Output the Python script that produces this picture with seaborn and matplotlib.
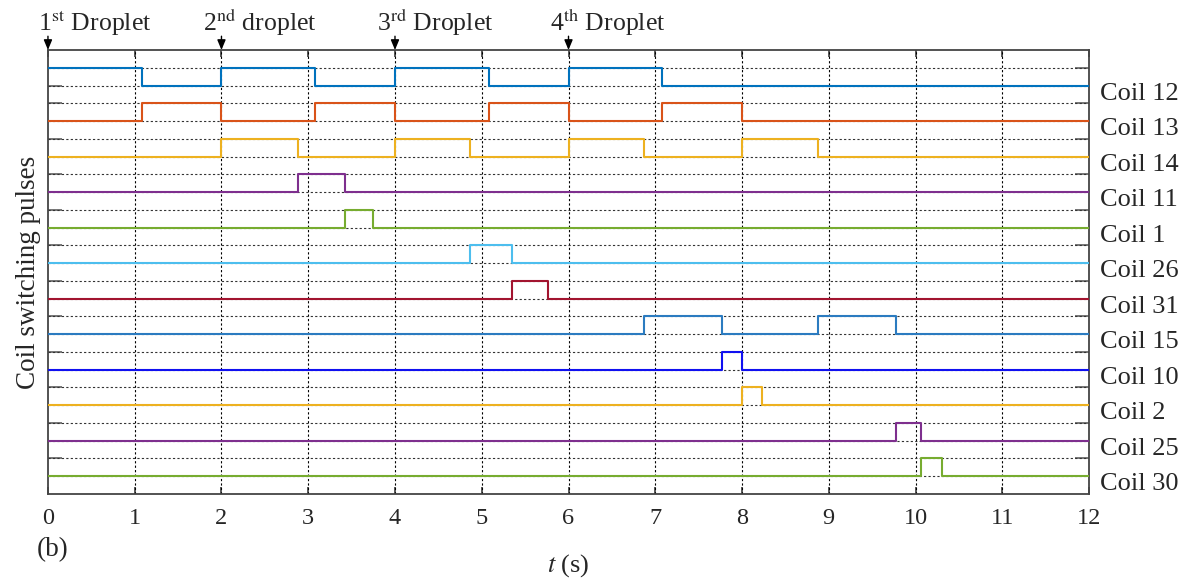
import matplotlib
matplotlib.use("Agg")
import matplotlib.pyplot as plt
import matplotlib.transforms as mtransforms
import pandas as pd
import seaborn as sns

# Coils from top to bottom of the timing diagram
coil_names = ["Coil 12", "Coil 13", "Coil 14", "Coil 11", "Coil 1", "Coil 26",
              "Coil 31", "Coil 15", "Coil 10", "Coil 2", "Coil 25", "Coil 30"]
coil_colors = ["#0072BD", "#D95319", "#EDB120", "#7E2F8E", "#77AC30", "#4DBEEE",
               "#A2142F", "#2B7BC0", "#1010F0", "#EDB120", "#7E2F8E", "#77AC30"]

# Switch-on and switch-off instants (s) of each pulse, per coil
pulse_on = [
    [0.0, 2.0, 4.0, 6.0],
    [1.08, 3.08, 5.08, 7.08],
    [2.0, 4.0, 6.0, 8.0],
    [2.88],
    [3.42],
    [4.87],
    [5.35],
    [6.87, 8.87],
    [7.77],
    [8.0],
    [9.77],
    [10.06],
]
pulse_off = [
    [1.08, 3.08, 5.08, 7.08],
    [2.0, 4.0, 6.0, 8.0],
    [2.88, 4.87, 6.87, 8.87],
    [3.42],
    [3.75],
    [5.35],
    [5.76],
    [7.77, 9.77],
    [8.0],
    [8.23],
    [10.06],
    [10.31],
]

droplet_times = [0, 2, 4, 6]
droplet_labels = [r"1$^{\rm st}$ Droplet", r"2$^{\rm nd}$ droplet",
                  r"3$^{\rm rd}$ Droplet", r"4$^{\rm th}$ Droplet"]
x_ticks = list(range(0, 13))
t_end = 12.0

# Build one step signal per coil, stacked with two levels (off / on) per channel
n = len(coil_names)
rows = []
for i, name in enumerate(coil_names):
    low = 2 * (n - 1 - i) + 1
    high = low + 1
    times, states = [0.0], [0]
    for on, off in zip(pulse_on[i], pulse_off[i]):
        if on == 0.0:
            states[0] = 1
        else:
            times.append(on)
            states.append(1)
        times.append(off)
        states.append(0)
    times.append(t_end)
    states.append(states[-1])
    for t, s in zip(times, states):
        rows.append({"t": t, "level": high if s else low, "coil": name})
df = pd.DataFrame(rows)

sns.set_theme(style="white")
plt.rcParams["font.family"] = ["Liberation Serif", "DejaVu Serif"]
plt.rcParams["mathtext.fontset"] = "stix"

fig = plt.figure(figsize=(11.99, 5.80), dpi=100)
ax = fig.add_axes([0.040, 0.1483, 0.8683, 0.7655])

# dotted reference grid
for x in range(1, 12):
    ax.axvline(x, color="black", lw=0.8, ls=(0, (2, 2)), zorder=1)
for y in range(1, 2 * n + 1):
    ax.axhline(y, color="#333333", lw=0.8, ls=(0, (2, 2)), zorder=1)

sns.lineplot(data=df, x="t", y="level", hue="coil", hue_order=coil_names,
             palette=dict(zip(coil_names, coil_colors)), estimator=None,
             sort=False, drawstyle="steps-post", legend=False, lw=1.5,
             ax=ax, zorder=3)

ax.set_xlim(0, t_end)
ax.set_ylim(0, 2 * n + 1)
ax.set_xticks(x_ticks)
ax.set_yticks(range(1, 2 * n + 1))
ax.tick_params(axis="x", direction="in", length=5, top=True, bottom=True,
               labelsize=17.5, pad=10, color="#444444")
ax.tick_params(axis="y", direction="in", length=10, left=True, right=True,
               labelleft=False, color="#666666")
for sp in ax.spines.values():
    sp.set_color("#444444")
    sp.set_linewidth(1.3)

ax.set_xlabel(r"$t$ (s)", fontsize=19, labelpad=17)
ax.set_ylabel("Coil switching pulses", fontsize=19.5, labelpad=5)

# coil names on the right of each channel
for i, name in enumerate(coil_names):
    low = 2 * (n - 1 - i) + 1
    ax.text(t_end + 0.13, low - 0.45, name, fontsize=19, ha="left", va="center",
            clip_on=False)

# droplet arrival markers above the plot
trans = mtransforms.blended_transform_factory(ax.transData, ax.transAxes)
for t, lab in zip(droplet_times, droplet_labels):
    ax.annotate("", xy=(t, 1.0), xytext=(t, 1.031), xycoords=trans,
                textcoords=trans,
                arrowprops=dict(arrowstyle="-|>,head_length=0.6,head_width=0.25",
                                color="black", lw=1.0, mutation_scale=10,
                                shrinkA=0, shrinkB=0))
    dx = -0.12 if t == 0 else -0.21
    ax.text(t + dx, 1.043, lab, transform=trans, fontsize=18.5, ha="left",
            va="baseline")

fig.text(0.044, 0.052, "(b)", fontsize=19.5, ha="center", va="center")

fig.savefig("out.png", dpi=100)
